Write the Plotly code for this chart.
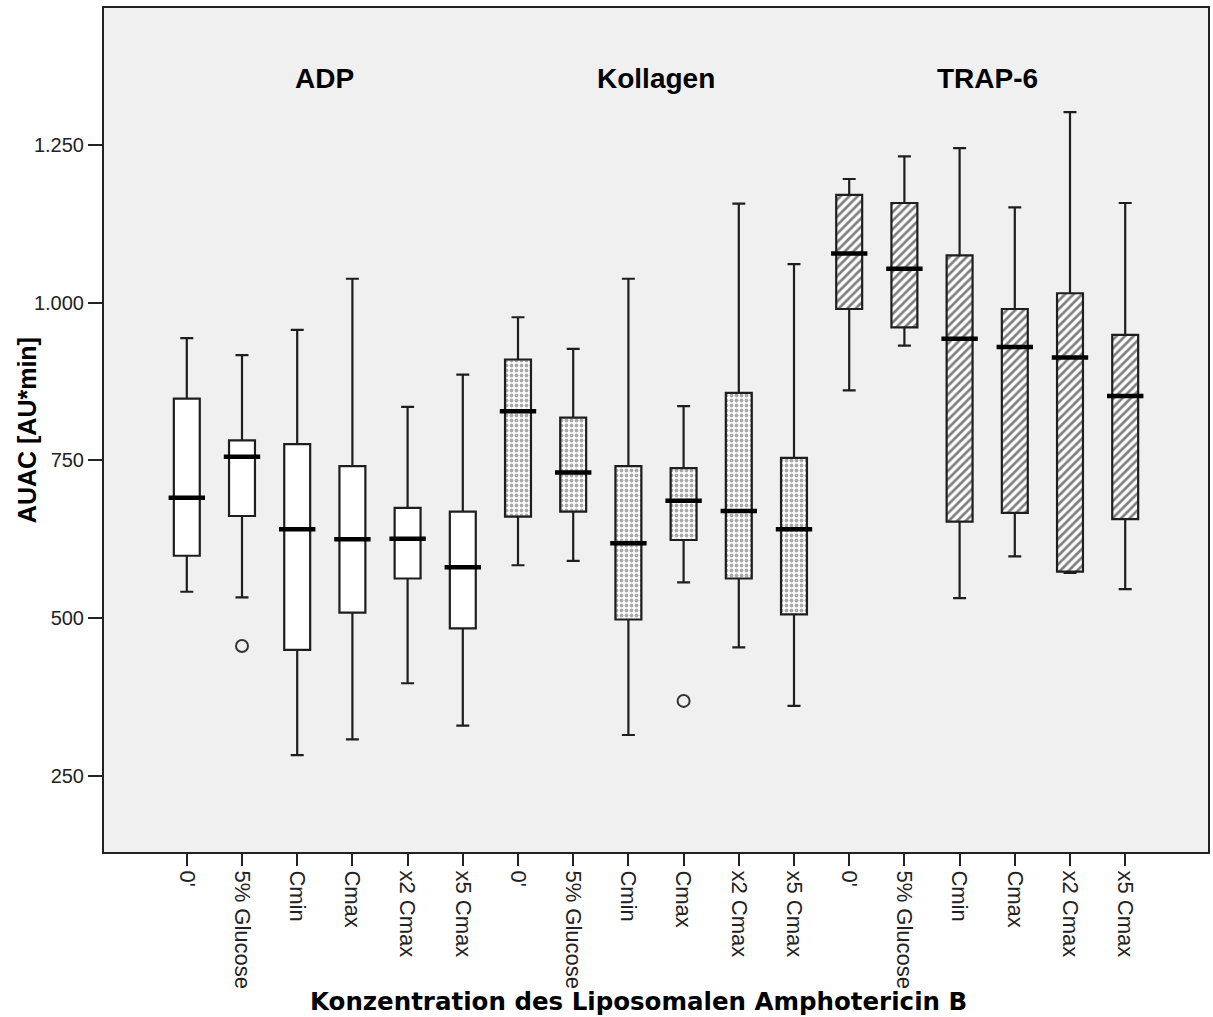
import plotly.graph_objects as go

# ---------------- data ----------------
conditions = ["0'", "5% Glucose", "Cmin", "Cmax", "x2 Cmax", "x5 Cmax"]
groups = ["ADP", "Kollagen", "TRAP-6"]

adp_q1 = [599, 662, 450, 509, 563, 484]
adp_med = [691, 756, 641, 625, 626, 581]
adp_q3 = [848, 782, 776, 741, 675, 669]
adp_lo = [542, 533, 283, 308, 397, 330]
adp_hi = [944, 917, 957, 1038, 835, 886]

kol_q1 = [661, 669, 498, 624, 563, 506]
kol_med = [828, 731, 619, 686, 670, 641]
kol_q3 = [910, 818, 741, 738, 857, 754]
kol_lo = [584, 591, 315, 557, 454, 361]
kol_hi = [977, 927, 1038, 836, 1157, 1061]

trap_q1 = [990, 961, 653, 667, 574, 657]
trap_med = [1078, 1054, 943, 930, 913, 852]
trap_q3 = [1171, 1158, 1075, 990, 1015, 949]
trap_lo = [861, 932, 532, 598, 572, 546]
trap_hi = [1196, 1232, 1245, 1151, 1302, 1158]

outlier_group = ["ADP", "Kollagen"]
outlier_cond = ["5% Glucose", "Cmax"]
outlier_val = [456, 369]

y_tickvals = [250, 500, 750, 1000, 1250]
y_ticktext = ["250", "500", "750", "1.000", "1.250"]

# ---------------- build ----------------
stats = {
    "ADP": (adp_q1, adp_med, adp_q3, adp_lo, adp_hi),
    "Kollagen": (kol_q1, kol_med, kol_q3, kol_lo, kol_hi),
    "TRAP-6": (trap_q1, trap_med, trap_q3, trap_lo, trap_hi),
}

patterns = {
    "ADP": dict(shape=""),
    "Kollagen": dict(shape=".", fgcolor="#555555", bgcolor="white", size=5, solidity=0.45),
    "TRAP-6": dict(shape="/", fgcolor="#000000", bgcolor="white", size=6, solidity=0.45),
}

n = len(conditions)
BOXW = 0.47
fig = go.Figure()

all_x = []
all_text = []
for g, name in enumerate(groups):
    xs = [g * n + i for i in range(n)]
    all_x += xs
    all_text += conditions
    q1, med, q3, lo, hi = stats[name]
    fig.add_trace(go.Bar(
        x=xs, y=[b - a for a, b in zip(q1, q3)], base=q1, width=BOXW,
        marker=dict(color="white", pattern=patterns[name], line=dict(width=0)),
        hoverinfo="skip", showlegend=False,
    ))

for g, name in enumerate(groups):
    xs = [g * n + i for i in range(n)]
    q1, med, q3, lo, hi = stats[name]
    fig.add_trace(go.Box(
        x=xs, q1=q1, median=med, q3=q3, lowerfence=lo, upperfence=hi,
        width=BOXW, whiskerwidth=0.5,
        fillcolor="rgba(0,0,0,0)", line=dict(color="#1e1e1e", width=2.2),
        hoverinfo="skip", showlegend=False, boxpoints=False,
    ))

for g, name in enumerate(groups):
    xs = [g * n + i for i in range(n)]
    q1, med, q3, lo, hi = stats[name]
    fig.add_trace(go.Scatter(
        x=xs, y=med, mode="markers",
        marker=dict(symbol="line-ew", size=26, color="black", line=dict(width=4.5, color="black")),
        hoverinfo="skip", showlegend=False,
    ))

ox = [groups.index(g) * n + conditions.index(c) for g, c in zip(outlier_group, outlier_cond)]
fig.add_trace(go.Scatter(
    x=ox, y=outlier_val, mode="markers",
    marker=dict(symbol="circle-open", size=12, color="#333333", line=dict(width=2, color="#333333")),
    hoverinfo="skip", showlegend=False,
))

for g, name in enumerate(groups):
    fig.add_annotation(
        x=g * n + (n - 1) / 2, y=1356, xref="x", yref="y", text="<b>%s</b>" % name,
        showarrow=False, font=dict(family="Liberation Sans, Arial", size=28, color="black"),
    )

fig.add_annotation(
    x=-0.0696, y=0.5, xref="paper", yref="paper", text="<b>AUAC [AU*min]</b>",
    textangle=-90, showarrow=False, xanchor="center", yanchor="middle",
    font=dict(family="Liberation Sans, Arial", size=25, color="black"),
)
fig.add_annotation(
    x=0.484, y=-0.1775, xref="paper", yref="paper",
    text="<b>Konzentration des Liposomalen Amphotericin B</b>",
    showarrow=False, xanchor="center", yanchor="middle",
    font=dict(family="DejaVu Sans", size=24.5, color="black"),
)

fig.update_layout(
    width=1213, height=1017,
    margin=dict(l=104, r=3, t=8, b=165),
    paper_bgcolor="white", plot_bgcolor="#f0f0f0",
    barmode="overlay", showlegend=False,
    font=dict(family="Liberation Sans, Arial", color="#222"),
)
fig.update_xaxes(
    range=[-1.5, 18.5], tickmode="array", tickvals=all_x, ticktext=all_text,
    tickangle=90, ticks="outside", ticklen=12, tickwidth=2, tickcolor="#222",
    tickfont=dict(size=22, color="#222"),
    showgrid=False, zeroline=False, showline=True, linecolor="#222", linewidth=2, mirror=True,
)
fig.update_yaxes(
    range=[129.6, 1467], tickmode="array", tickvals=y_tickvals, ticktext=y_ticktext,
    ticks="outside", ticklen=14, tickwidth=2, tickcolor="#222",
    tickfont=dict(size=20, color="#222"),
    showgrid=False, zeroline=False, showline=True, linecolor="#222", linewidth=2, mirror=True,
)

fig.write_html("out.html")
